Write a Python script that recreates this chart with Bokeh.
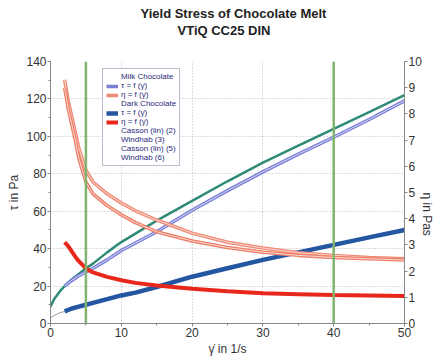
import math
from bokeh.plotting import figure
from bokeh.models import (Range1d, LinearAxis, Span, Legend, LegendItem, Title,
                          SingleIntervalTicker)
from bokeh.embed import file_html
from bokeh.resources import INLINE

# ---- data ----
shear_rate = [2, 3, 4, 5, 6, 8, 10, 12, 15, 20, 25, 30, 35, 40, 45, 50]
milk_tau = [20, 23, 25.5, 27.5, 29.5, 34, 39, 43, 49, 60.5, 71, 81, 90.5, 99.5, 109, 119]
dark_tau = [6.5, 8, 9, 10, 11, 13, 15, 16.5, 19.5, 25, 29.5, 34, 38, 42, 46, 50]

eta_rate = [2, 2.5, 3, 3.5, 4, 5, 6, 8, 10, 12, 15, 20, 25, 30, 35, 40, 45, 50]
milk_eta_up = [9.3, 8.5, 7.9, 7.3, 6.7, 5.85, 5.4, 4.95, 4.6, 4.3, 3.95, 3.45, 3.1, 2.88, 2.7, 2.6, 2.52, 2.47]
milk_eta_down = [9.0, 8.2, 7.6, 7.0, 6.3, 5.4, 4.95, 4.5, 4.15, 3.85, 3.5, 3.15, 2.9, 2.72, 2.6, 2.52, 2.47, 2.42]
dark_eta = [3.1, 2.95, 2.75, 2.55, 2.38, 2.1, 1.95, 1.78, 1.65, 1.55, 1.45, 1.33, 1.23, 1.15, 1.12, 1.09, 1.07, 1.05]

fit_rate = [0, 0.5, 1, 1.5, 2, 3, 4, 5, 6, 8, 10, 12, 15, 20, 25, 30, 35, 40, 45, 50]
milk_fit = [9, 13, 15.5, 18, 20, 23.5, 26.5, 29.5, 32, 38, 43.5, 48, 55, 65.5, 76, 86, 95, 104, 113, 122]
dark_fit = [3, 4.3, 5.2, 5.9, 6.5, 7.8, 9, 10.2, 11.2, 13.1, 15, 16.8, 19.6, 24.5, 29.3, 33.8, 38, 42.1, 46.2, 50.2]

evaluation_limits = [5, 40]

title_lines = ["Yield Stress of Chocolate Melt", "VTiQ CC25 DIN"]

FONT = "Liberation Sans"

p = figure(frame_width=354, frame_height=262, output_backend="svg", toolbar_location=None,
           x_range=Range1d(0, 50), y_range=Range1d(0, 140),
           min_border_left=50, min_border_right=10, min_border_top=61, min_border_bottom=10)
p.extra_y_ranges = {"eta": Range1d(0, 10)}

# spacer between the title block and the frame
p.add_layout(Title(text=" ", text_font=FONT, text_font_size="20px", standoff=0), "above")
p.add_layout(Title(text=title_lines[1], align="left", text_font=FONT, text_font_size="13px",
                   text_font_style="bold", text_color="#222222", offset=127,
                   standoff=0), "above")
p.add_layout(Title(text=title_lines[0], align="left", text_font=FONT, text_font_size="13px",
                   text_font_style="bold", text_color="#222222", offset=90,
                   standoff=0), "above")
p.title.text = ""

p.outline_line_color = None
p.background_fill_color = "white"
p.border_fill_color = "white"

# axes
p.xaxis.axis_label = "\u03b3\u0307 in 1/s"
p.yaxis.axis_label = "\u03c4 in Pa"
p.xaxis.ticker = SingleIntervalTicker(interval=10, num_minor_ticks=2)
p.yaxis.ticker = SingleIntervalTicker(interval=20, num_minor_ticks=2)

right = LinearAxis(y_range_name="eta", axis_label="\u03b7 in Pas",
                   ticker=SingleIntervalTicker(interval=1, num_minor_ticks=0))
p.add_layout(right, "right")
right.axis_label_orientation = -math.pi / 2

for ax in [p.xaxis[0], p.yaxis[0], right]:
    ax.axis_line_color = "#888888"
    ax.major_tick_line_color = "#888888"
    ax.minor_tick_line_color = "#888888"
    ax.major_tick_out = 3
    ax.major_tick_in = 0
    ax.minor_tick_out = 2
    ax.minor_tick_in = 0
    ax.major_label_text_font = FONT
    ax.major_label_text_font_size = "12px"
    ax.major_label_text_color = "#333333"
    ax.major_label_standoff = 1
    ax.axis_label_text_font = FONT
    ax.axis_label_text_font_size = "12px"
    ax.axis_label_text_font_style = "normal"
    ax.axis_label_text_color = "#333333"
    ax.axis_label_standoff = 2

p.xgrid.grid_line_color = "#bbbbbb"
p.xgrid.grid_line_dash = "1 2"
p.ygrid.grid_line_color = "#bbbbbb"
p.ygrid.grid_line_dash = "1 2"

# evaluation-range markers
for loc in evaluation_limits:
    p.add_layout(Span(location=loc, dimension="height", line_color="#7fb56f", line_width=2.5))

# fits
r_dark_fit = p.line(fit_rate, dark_fit, line_color="#9a9a9a", line_width=1)
r_milk_fit = p.line(fit_rate, milk_fit, line_color="#2f8a78", line_width=2.5)

# milk tau (open circles)
r_mt1 = p.line(shear_rate, milk_tau, line_color="#7a7fd6", line_width=3.5)
r_mt2 = p.line(shear_rate, milk_tau, line_color="#d8daf6", line_width=1)
r_mt_leg = p.scatter([], [], marker="circle", size=5, line_color="#7a7fd6", fill_color="white")

# dark tau
r_dt = p.line(shear_rate, dark_tau, line_color="#2456a2", line_width=4.5)
r_dt_leg = p.scatter([], [], marker="asterisk", size=6, line_color="#2456a2")

# milk eta (open)
r_me1 = p.line(eta_rate, milk_eta_up, y_range_name="eta", line_color="#ef8a74", line_width=3.5)
r_me2 = p.line(eta_rate, milk_eta_up, y_range_name="eta", line_color="#fbd9d0", line_width=1)
r_me3 = p.line(eta_rate, milk_eta_down, y_range_name="eta", line_color="#ec7e68", line_width=3.5)
r_me4 = p.line(eta_rate, milk_eta_down, y_range_name="eta", line_color="#fbd9d0", line_width=1)
r_me_leg = p.scatter([], [], marker="triangle", size=5, line_color="#ef8a74", fill_color="white")

# dark eta
r_de = p.line(eta_rate, dark_eta, y_range_name="eta", line_color="#e8271c", line_width=4)
r_de_leg = p.scatter([], [], marker="asterisk", size=6, line_color="#e8271c")

# legend helpers
hdr = p.line([], [], line_alpha=0)
fit_c2 = p.line([], [], line_color="#d6d9b8", line_width=1)
fit_w3 = p.line([], [], line_color="#e9dca6", line_width=1)
fit_c5 = p.line([], [], line_color="#2f8a78", line_width=1)
fit_w6 = p.line([], [], line_color="#6c9a4a", line_width=1)

items = [
    LegendItem(label="Milk Chocolate", renderers=[hdr]),
    LegendItem(label="\u03c4 = f (\u03b3\u0307)", renderers=[r_mt1, r_mt_leg]),
    LegendItem(label="\u03b7 = f (\u03b3\u0307)", renderers=[r_me1, r_me_leg]),
    LegendItem(label="Dark Chocolate", renderers=[hdr]),
    LegendItem(label="\u03c4 = f (\u03b3\u0307)", renderers=[r_dt, r_dt_leg]),
    LegendItem(label="\u03b7 = f (\u03b3\u0307)", renderers=[r_de, r_de_leg]),
    LegendItem(label="Casson (lin) (2)", renderers=[fit_c2]),
    LegendItem(label="Windhab (3)", renderers=[fit_w3]),
    LegendItem(label="Casson (lin) (5)", renderers=[fit_c5]),
    LegendItem(label="Windhab (6)", renderers=[fit_w6]),
]
legend = Legend(items=items, location=(52, 157), label_text_font=FONT,
                label_text_font_size="8px", label_text_color="#2a2a7a",
                label_height=8, glyph_height=8, glyph_width=12, spacing=0,
                padding=3, margin=0, label_standoff=3,
                border_line_color="#7a7aa0", border_line_width=1,
                background_fill_color="white", background_fill_alpha=1,
                label_text_line_height=1.0)
p.add_layout(legend, "center")

open("out.html", "w").write(file_html(p, INLINE))
